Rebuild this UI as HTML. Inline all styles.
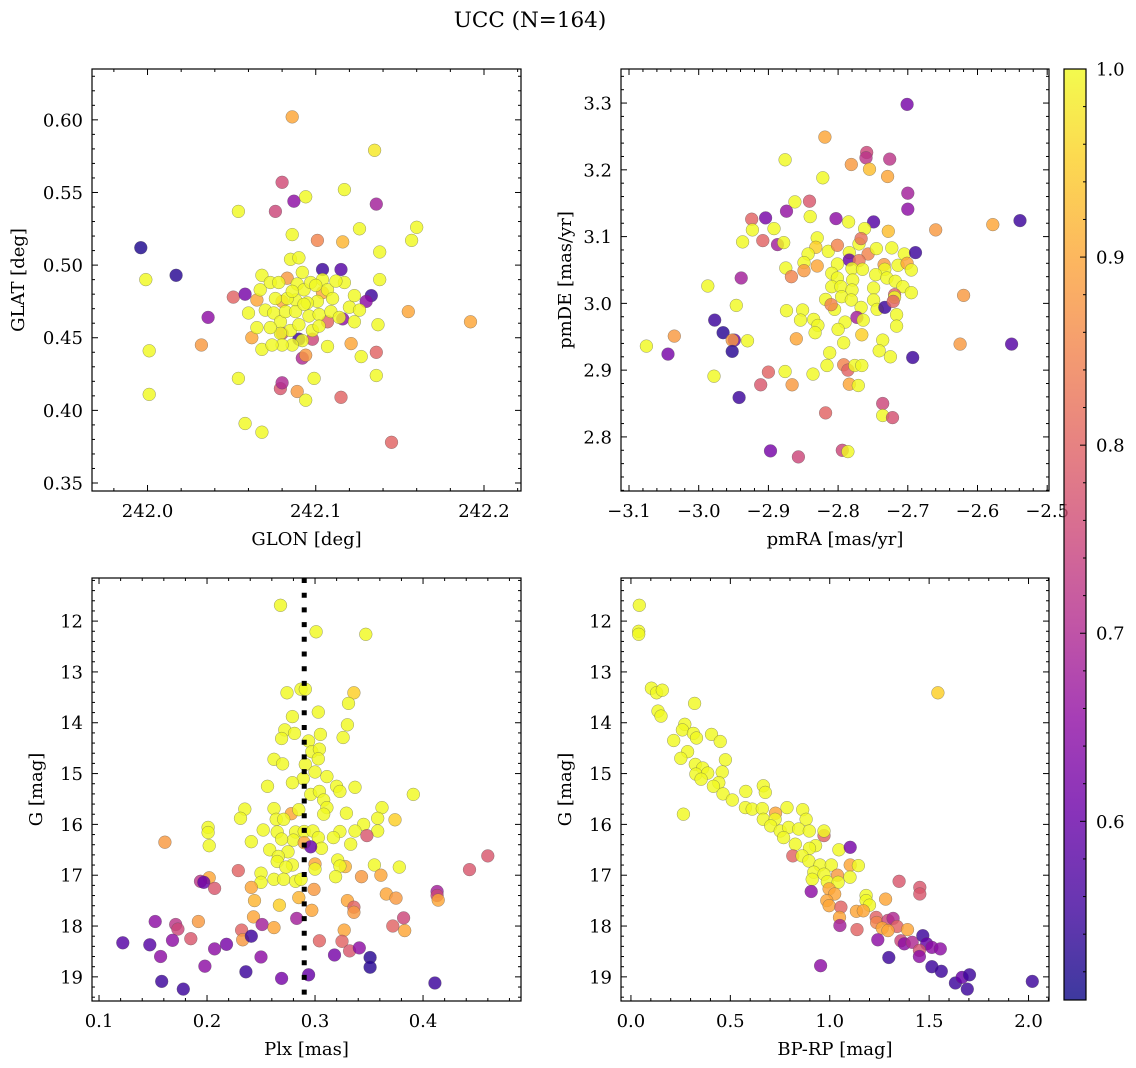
<!DOCTYPE html>
<html><head><meta charset="utf-8">
<style>
html,body{margin:0;padding:0;background:#fff;}
svg{display:block;font-family:"DejaVu Serif","Liberation Serif",serif;}
</style></head>
<body>
<svg id="fig" width="1136" height="1068" viewBox="0 0 1136 1068" xmlns="http://www.w3.org/2000/svg">
<text x="530" y="27" font-size="21.5" text-anchor="middle">UCC (N=164)</text>
</svg>
<script>
// ---- Data (value, value, membership probability) ----
const panel1Points = [
[242.086,.602,.9],[242.135,.579,.98],[241.996,.512,.52],[241.999,.490,1],[242.017,.493,.53],[242.001,.441,1],[242.001,.411,1],
[242.036,.464,.65],[242.032,.445,.88],[242.054,.537,1],[242.051,.478,.8],[242.058,.480,.62],[242.054,.422,1],[242.058,.391,1],
[242.068,.385,1],[242.080,.557,.76],[242.076,.537,.75],[242.086,.521,1],[242.087,.544,.65],[242.094,.547,1],[242.117,.552,1],
[242.136,.542,.68],[242.126,.525,1],[242.101,.517,.85],[242.116,.516,.92],[242.157,.517,1],[242.160,.526,1],[242.138,.509,1],
[242.104,.497,.55],[242.115,.497,.58],[242.138,.490,1],[242.155,.468,.9],[242.192,.461,.9],[242.133,.479,.55],[242.130,.475,.65],
[242.137,.459,1],[242.136,.440,.8],[242.136,.424,1],[242.121,.446,.9],[242.127,.437,1],[242.107,.461,.8],[242.115,.409,.8],
[242.145,.378,.8],[242.089,.413,.88],[242.094,.407,1],[242.079,.415,.78],[242.080,.419,.7],[242.092,.436,.7],[242.099,.422,1],
[242.080,.475,.9],[242.065,.476,.9],[242.083,.491,.88],[242.104,.481,.9],[242.094,.438,.88],[242.080,.453,.78],[242.098,.449,.75],
[242.116,.463,.65],[242.090,.449,.55],[242.062,.450,.9],
[242.068,.493,1],[242.073,.488,1],[242.078,.488,1],[242.085,.504,1],[242.090,.505,1],[242.092,.495,1],[242.089,.487,1],
[242.093,.483,1],[242.097,.488,1],[242.104,.490,1],[242.107,.483,1],[242.110,.477,1],[242.101,.475,1],[242.095,.474,1],
[242.088,.476,1],[242.083,.477,1],[242.076,.477,1],[242.070,.469,1],[242.075,.467,1],[242.079,.461,1],[242.085,.455,1],
[242.090,.459,1],[242.096,.465,1],[242.102,.466,1],[242.109,.468,1],[242.114,.464,1],[242.120,.471,1],[242.123,.461,1],
[242.098,.455,1],[242.092,.448,1],[242.086,.445,1],[242.079,.453,1],[242.073,.457,1],[242.065,.457,1],[242.060,.467,1],
[242.067,.483,1],[242.082,.468,1],[242.088,.468,1],[242.102,.458,1],[242.107,.444,1],[242.100,.486,1],[242.086,.482,1],
[242.093,.473,1],[242.080,.445,1],[242.068,.442,1],[242.117,.488,1],[242.112,.489,1],[242.123,.479,1],[242.126,.469,1],[242.074,.445,1]
];
const panel2Points = [
[-2.701,3.298,.62],[-2.819,3.249,.9],[-2.759,3.226,.75],[-2.760,3.218,.72],[-2.726,3.216,.72],[-2.876,3.215,1],[-2.781,3.208,.88],
[-2.755,3.201,.93],[-2.729,3.190,.9],[-2.822,3.188,1],[-2.700,3.165,.68],[-2.700,3.141,.65],[-2.841,3.153,.78],[-2.862,3.152,1],
[-2.874,3.138,.66],[-2.904,3.128,.62],[-2.924,3.126,.8],[-2.923,3.110,1],[-2.892,3.112,1],[-2.840,3.130,1],[-2.803,3.127,.65],
[-2.785,3.122,1],[-2.749,3.122,.58],[-2.762,3.112,1],[-2.728,3.108,.93],[-2.660,3.110,.88],[-2.578,3.118,.9],[-2.539,3.124,.55],
[-2.937,3.092,1],[-2.908,3.094,.8],[-2.887,3.088,.68],[-2.878,3.091,1],[-2.830,3.098,1],[-2.832,3.084,.95],[-2.843,3.074,1],
[-2.814,3.078,1],[-2.801,3.087,.85],[-2.770,3.089,1],[-2.767,3.097,.82],[-2.784,3.076,1],[-2.757,3.074,.85],[-2.745,3.082,1],
[-2.723,3.083,1],[-2.705,3.074,1],[-2.689,3.076,.55],[-2.784,3.065,.6],[-2.770,3.064,.83],[-2.849,3.061,1],[-2.875,3.053,1],
[-2.867,3.040,.85],[-2.849,3.049,.88],[-2.830,3.056,.9],[-2.801,3.059,1],[-2.780,3.052,1],[-2.734,3.058,.88],[-2.714,3.057,1],
[-2.701,3.060,.9],[-2.695,3.050,1],[-2.733,3.051,1],[-2.765,3.051,1],[-2.809,3.045,1],[-2.801,3.038,1],[-2.779,3.035,1],
[-2.746,3.043,1],[-2.730,3.038,1],[-2.718,3.033,1],[-2.707,3.025,1],[-2.695,3.016,1],[-2.939,3.038,.68],[-2.987,3.026,1],
[-2.809,3.025,1],[-2.796,3.025,1],[-2.780,3.020,1],[-2.749,3.023,1],[-2.719,3.013,.8],[-2.719,3.009,1],[-2.818,3.006,1],
[-2.795,3.010,1],[-2.781,3.005,1],[-2.767,2.994,1],[-2.749,3.005,1],[-2.744,2.991,1],[-2.733,2.994,.55],[-2.721,3.003,.8],
[-2.805,2.991,1],[-2.810,2.998,.85],[-2.620,3.012,.88],[-2.946,2.997,1],[-2.874,2.989,1],[-2.851,2.990,1],[-2.854,2.975,1],
[-2.835,2.976,1],[-2.829,2.967,1],[-2.833,2.956,1],[-2.773,2.979,.68],[-2.764,2.975,1],[-2.790,2.972,1],[-2.800,2.961,1],
[-2.716,2.983,1],[-2.716,2.966,1],[-2.977,2.975,.55],[-2.965,2.956,.53],[-2.949,2.945,.6],[-2.952,2.945,.88],[-2.930,2.944,1],
[-2.952,2.928,.53],[-3.035,2.951,.88],[-3.075,2.936,1],[-3.044,2.924,.62],[-2.860,2.947,.9],[-2.792,2.941,1],[-2.766,2.953,.95],
[-2.736,2.945,1],[-2.741,2.929,1],[-2.725,2.920,1],[-2.693,2.919,.55],[-2.625,2.939,.88],[-2.551,2.939,.58],[-2.812,2.926,1],
[-2.816,2.907,1],[-2.792,2.908,.85],[-2.786,2.900,.8],[-2.776,2.907,1],[-2.766,2.907,1],[-2.876,2.898,1],[-2.836,2.894,1],
[-2.900,2.897,.8],[-2.978,2.891,1],[-2.911,2.878,.78],[-2.866,2.878,.88],[-2.784,2.879,.9],[-2.771,2.877,1],[-2.942,2.859,.55],
[-2.736,2.850,.75],[-2.736,2.832,1],[-2.722,2.829,.77],[-2.818,2.836,.8],[-2.897,2.779,.62],[-2.857,2.770,.75],[-2.794,2.780,.75],[-2.786,2.778,1]
];
const panel3Points = [
[.268,11.69,1],[.301,12.21,1],[.347,12.26,1],[.274,13.41,1],[.287,13.34,1],[.291,13.34,1],[.336,13.41,.95],[.331,13.62,1],
[.303,13.79,1],[.279,13.88,1],[.330,14.04,1],[.272,14.14,1],[.281,14.21,1],[.269,14.31,1],[.305,14.23,1],[.326,14.29,1],
[.294,14.36,1],[.297,14.57,1],[.304,14.52,1],[.303,14.71,1],[.262,14.72,1],[.270,14.81,1],[.291,14.82,1],[.300,14.97,1],
[.311,15.06,1],[.289,15.10,1],[.279,15.18,1],[.256,15.25,1],[.320,15.25,1],[.323,15.35,1],[.337,15.27,1],[.391,15.41,1],
[.296,15.41,1],[.304,15.35,1],[.308,15.52,1],[.311,15.67,1],[.308,15.80,1],[.278,15.79,.9],[.285,15.71,1],[.262,15.69,1],
[.235,15.70,1],[.231,15.88,1],[.264,15.90,1],[.271,15.90,1],[.329,15.78,1],[.362,15.67,1],[.358,15.88,1],[.374,15.91,.95],
[.345,16.00,1],[.201,16.06,1],[.201,16.16,1],[.202,16.42,1],[.252,16.11,1],[.265,16.15,1],[.282,16.15,1],[.290,16.14,1],
[.298,16.13,1],[.323,16.14,1],[.337,16.13,1],[.358,16.13,1],[.317,16.26,1],[.303,16.26,1],[.280,16.31,1],[.269,16.29,1],
[.241,16.34,1],[.333,16.39,1],[.306,16.47,1],[.290,16.36,.9],[.296,16.44,.6],[.348,16.22,.78],[.161,16.35,.88],[.258,16.50,1],
[.275,16.54,1],[.266,16.63,1],[.265,16.73,1],[.279,16.80,1],[.273,16.84,1],[.321,16.70,1],[.328,16.83,.92],[.323,16.82,1],
[.300,16.78,.9],[.300,16.88,1],[.355,16.80,1],[.378,16.84,1],[.229,16.91,.8],[.443,16.89,.78],[.460,16.62,.78],[.250,16.96,1],
[.319,17.03,1],[.343,17.03,.88],[.361,17.00,.9],[.262,17.08,1],[.271,17.08,1],[.282,17.12,1],[.287,17.08,1],[.250,17.14,1],
[.202,17.05,.9],[.194,17.12,.72],[.197,17.14,.6],[.207,17.26,.78],[.241,17.24,.9],[.299,17.28,.88],[.285,17.44,.92],[.267,17.59,.95],
[.244,17.50,.92],[.297,17.69,.9],[.330,17.50,.9],[.336,17.63,.8],[.336,17.73,.88],[.366,17.37,.9],[.375,17.45,.88],[.413,17.32,.68],
[.413,17.40,.75],[.414,17.49,.9],[.243,17.82,.9],[.192,17.91,.88],[.152,17.91,.65],[.171,17.97,.72],[.173,18.06,.75],[.283,17.85,.68],
[.251,17.97,.68],[.262,18.03,.9],[.382,17.84,.75],[.372,18.00,.8],[.383,18.09,.9],[.232,18.08,.8],[.233,18.27,.88],[.241,18.20,.55],
[.185,18.25,.78],[.168,18.28,.65],[.122,18.33,.58],[.147,18.37,.58],[.157,18.60,.65],[.207,18.45,.65],[.218,18.36,.62],[.250,18.61,.65],
[.304,18.29,.8],[.327,18.08,.9],[.325,18.30,.8],[.332,18.49,.78],[.341,18.43,.65],[.318,18.57,.62],[.351,18.62,.53],[.351,18.81,.53],
[.198,18.79,.65],[.236,18.90,.55],[.269,19.03,.62],[.294,18.96,.6],[.158,19.09,.55],[.178,19.24,.55],[.411,19.12,.55]
];
const panel4Points = [
[.042,11.69,1],[.039,12.20,1],[.039,12.26,1],[.103,13.32,1],[.129,13.41,1],[.158,13.36,1],[.320,13.62,1],[1.544,13.41,.95],
[.136,13.77,1],[.151,13.87,1],[.271,14.03,1],[.259,14.14,1],[.314,14.21,1],[.330,14.30,1],[.215,14.35,1],[.405,14.23,1],
[.449,14.37,1],[.285,14.57,1],[.251,14.70,1],[.475,14.73,1],[.324,14.82,1],[.361,14.89,1],[.459,14.97,1],[.327,15.01,1],
[.386,14.99,1],[.353,15.11,1],[.442,15.18,1],[.415,15.25,1],[.463,15.40,1],[.510,15.52,1],[.578,15.35,1],[.666,15.24,1],
[.676,15.37,1],[.576,15.67,1],[.610,15.70,1],[.661,15.69,1],[.785,15.67,1],[.864,15.71,1],[.727,15.78,.9],[.666,15.90,1],
[.725,15.90,1],[.264,15.80,1],[.881,15.90,1],[.703,16.03,1],[.751,16.13,1],[.793,16.06,1],[.844,16.09,1],[.897,16.13,1],
[.971,16.22,.8],[.971,16.13,1],[.768,16.26,1],[.827,16.39,1],[.929,16.42,1],[.898,16.47,1],[1.046,16.50,1],[1.103,16.45,.62],
[.814,16.62,.8],[.861,16.62,1],[.895,16.72,1],[.951,16.80,1],[1.008,16.80,1],[1.103,16.80,.9],[1.144,16.81,1],[.920,16.94,1],
[.971,16.98,1],[1.039,17.00,.88],[1.102,17.04,1],[.912,17.08,1],[.988,17.13,1],[1.042,17.14,1],[.907,17.32,.65],[.997,17.27,.9],
[1.025,17.37,.9],[1.349,17.12,.78],[1.453,17.24,.78],[1.453,17.37,.78],[1.183,17.40,1],[1.183,17.50,1],[1.200,17.59,1],[1.281,17.47,.9],
[.985,17.50,.9],[.997,17.60,.9],[1.056,17.63,.8],[1.134,17.71,.9],[1.169,17.70,.9],[1.049,17.83,.9],[1.051,17.99,.68],[1.137,18.07,.8],
[1.234,17.83,.8],[1.236,17.93,.85],[1.293,17.89,.75],[1.319,17.85,.7],[1.339,18.01,.8],[1.264,18.04,.9],[1.293,18.09,.9],[1.391,18.07,.9],
[1.242,18.27,.65],[1.358,18.29,.75],[1.375,18.35,.65],[1.415,18.32,.7],[1.468,18.19,.55],[1.488,18.35,.6],[1.514,18.42,.65],[1.556,18.45,.65],
[1.451,18.48,.77],[1.451,18.60,.65],[1.297,18.62,.55],[.954,18.78,.65],[1.514,18.80,.55],[1.561,18.89,.55],[1.632,19.12,.55],[1.666,19.01,.6],
[1.703,18.96,.55],[1.692,19.24,.55],[2.019,19.09,.55]
];
const plxMedian = 0.290;
const glonTicks = [242.0, 242.1, 242.2];
const glatTicks = [0.35, 0.40, 0.45, 0.50, 0.55, 0.60];
const pmraTicks = [-3.1, -3.0, -2.9, -2.8, -2.7, -2.6, -2.5];
const pmdeTicks = [2.8, 2.9, 3.0, 3.1, 3.2, 3.3];
const plxTicks = [0.1, 0.2, 0.3, 0.4];
const gTicks = [12, 13, 14, 15, 16, 17, 18, 19];
const bprpTicks = [0.0, 0.5, 1.0, 1.5, 2.0];
const cbarTicks = [0.6, 0.7, 0.8, 0.9, 1.0];
const cbarMin = 0.505, cbarMax = 1.0;

// ---- helpers ----
const NS = "http://www.w3.org/2000/svg";
const svg = document.getElementById('fig');
const FS = 18;
function mk(tag, attrs, parent){ const e = document.createElementNS(NS, tag); for (const k in attrs) e.setAttribute(k, attrs[k]); (parent||svg).appendChild(e); return e; }
const plasma = ["#0d0887","#41049d","#6a00a8","#8f0da4","#b12a90","#cc4778","#e16462","#f2844b","#fca636","#fcce25","#f0f921"];
function hex(h){ return [parseInt(h.slice(1,3),16),parseInt(h.slice(3,5),16),parseInt(h.slice(5,7),16)]; }
function cmap(v){
  let t = (v - cbarMin)/(cbarMax - cbarMin); t = Math.max(0, Math.min(1, t));
  const f = t*10, i = Math.min(9, Math.floor(f)), u = f - i;
  const a = hex(plasma[i]), b = hex(plasma[i+1]);
  return "rgb(" + a.map((c,k)=>Math.round(c+(b[k]-c)*u)).join(",") + ")";
}
function fmt(v, d){ const s = v.toFixed(d); return s.replace("-", "\u2212"); }

function panel(cfg){
  const {name, x0, x1, y0, y1, xlim, ylim, yInvert} = cfg;
  const g = mk('g', {});
  
  
  const sx = v => x0 + (v - xlim[0])/(xlim[1]-xlim[0])*(x1-x0);
  const sy = yInvert ? (v => y0 + (v - ylim[0])/(ylim[1]-ylim[0])*(y1-y0))
                     : (v => y1 - (v - ylim[0])/(ylim[1]-ylim[0])*(y1-y0));
  const pg = mk('g', {}, g);
  
  
  cfg.points.forEach(p => {
    const c = mk('circle', {cx: sx(p[0]).toFixed(1), cy: sy(p[1]).toFixed(1), r: 6.4, fill: cmap(p[2]), 'fill-opacity': 0.82, stroke: '#555', 'stroke-opacity': 0.6, 'stroke-width': 0.5}, pg);
    
    
  });
  if (cfg.extra) cfg.extra(g, sx, sy);
  const fr = mk('rect', {x: x0, y: y0, width: x1-x0, height: y1-y0, fill: 'none', stroke: '#000', 'stroke-width': 1.2}, g);
  
  
  const tk = mk('g', {stroke: '#000', 'stroke-width': 1}, g);
  
  
  const xm = cfg.xMinor, ym = cfg.yMinor;
  for (let v = Math.ceil(xlim[0]/xm - 1e-6)*xm; v <= xlim[1]; v += xm) {
    const px = sx(v), major = cfg.xTicks.some(t => Math.abs(t - v) < xm/10), L = major ? 6 : 3;
    mk('line', {x1: px, x2: px, y1: y1, y2: y1-L}, tk); mk('line', {x1: px, x2: px, y1: y0, y2: y0+L}, tk);
  }
  for (let v = Math.ceil(ylim[0]/ym - 1e-6)*ym; v <= ylim[1]; v += ym) {
    const py = sy(v), major = cfg.yTicks.some(t => Math.abs(t - v) < ym/10), L = major ? 6 : 3;
    mk('line', {x1: x0, x2: x0+L, y1: py, y2: py}, tk); mk('line', {x1: x1, x2: x1-L, y1: py, y2: py}, tk);
  }
  cfg.xTicks.forEach(t => {
    const e = mk('text', {x: sx(t), y: y1+26, 'font-size': FS, 'text-anchor': 'middle'}, g);
    e.textContent = fmt(t, cfg.xDec);
    
    
  });
  cfg.yTicks.forEach(t => {
    const e = mk('text', {x: x0-9, y: sy(t)+6.5, 'font-size': FS, 'text-anchor': 'end'}, g);
    e.textContent = fmt(t, cfg.yDec);
    
    
  });
  const xl = mk('text', {x: (x0+x1)/2, y: y1+54, 'font-size': FS, 'text-anchor': 'middle'}, g);
  xl.textContent = cfg.xLabel;
  
  
  const yx = cfg.yLabelX, yy = (y0+y1)/2;
  const yl = mk('text', {x: yx, y: yy, 'font-size': FS, 'text-anchor': 'middle', transform: `rotate(-90 ${yx} ${yy})`}, g);
  yl.textContent = cfg.yLabel;
  
  
}

panel({name: 'glon-glat-panel', x0: 92, x1: 521, y0: 69, y1: 491, xlim: [241.967, 242.222], ylim: [0.3445, 0.635],
  points: panel1Points, xTicks: glonTicks, yTicks: glatTicks, xMinor: 0.02, yMinor: 0.01, xDec: 1, yDec: 2,
  xLabel: 'GLON [deg]', yLabel: 'GLAT [deg]', yLabelX: 24});
panel({name: 'pm-panel', x0: 621, x1: 1049, y0: 69, y1: 491, xlim: [-3.1115, -2.4974], ylim: [2.719, 3.351],
  points: panel2Points, xTicks: pmraTicks, yTicks: pmdeTicks, xMinor: 0.02, yMinor: 0.02, xDec: 1, yDec: 1,
  xLabel: 'pmRA [mas/yr]', yLabel: 'pmDE [mas/yr]', yLabelX: 571});
panel({name: 'plx-g-panel', x0: 92, x1: 521, y0: 578, y1: 1001, xlim: [0.0935, 0.4907], ylim: [11.152, 19.475], yInvert: true,
  points: panel3Points, xTicks: plxTicks, yTicks: gTicks, xMinor: 0.02, yMinor: 0.2, xDec: 1, yDec: 0,
  xLabel: 'Plx [mas]', yLabel: 'G [mag]', yLabelX: 42,
  extra: (g, sx, sy) => {
    const l = mk('line', {x1: sx(plxMedian), x2: sx(plxMedian), y1: 578, y2: 1001, stroke: '#000', 'stroke-width': 5, 'stroke-dasharray': '5 9.7'}, g);
    
    
  }});
panel({name: 'cmd-panel', x0: 621, x1: 1049, y0: 578, y1: 1001, xlim: [-0.05, 2.103], ylim: [11.152, 19.475], yInvert: true,
  points: panel4Points, xTicks: bprpTicks, yTicks: gTicks, xMinor: 0.1, yMinor: 0.2, xDec: 1, yDec: 0,
  xLabel: 'BP-RP [mag]', yLabel: 'G [mag]', yLabelX: 571});

// ---- colorbar ----
(function(){
  const cx0 = 1064, cx1 = 1086, cy0 = 69, cy1 = 1000;
  const cg = mk('g', {});
  
  
  const defs = mk('defs', {}, cg);
  const lg = mk('linearGradient', {id: 'cbg', x1: 0, y1: 1, x2: 0, y2: 0}, defs);
  plasma.forEach((c, i) => mk('stop', {offset: i/10, 'stop-color': c}, lg));
  mk('rect', {x: cx0, y: cy0, width: cx1-cx0, height: cy1-cy0, fill: 'url(#cbg)', 'fill-opacity': 0.8, stroke: '#000', 'stroke-width': 1.2}, cg);
  const sy = v => cy1 - (v - cbarMin)/(cbarMax - cbarMin)*(cy1-cy0);
  for (let v = 0.52; v <= 1.0001; v += 0.02) {
    const major = cbarTicks.some(t => Math.abs(t - v) < 0.002);
    mk('line', {x1: cx1, x2: cx1 - (major ? 6 : 3), y1: sy(v), y2: sy(v), stroke: '#000', 'stroke-width': 1}, cg);
  }
  cbarTicks.forEach(t => {
    const e = mk('text', {x: cx1+10, y: sy(t)+6.5, 'font-size': FS}, cg);
    e.textContent = t.toFixed(1);
    
    
  });
})();
</script>
</body></html>
